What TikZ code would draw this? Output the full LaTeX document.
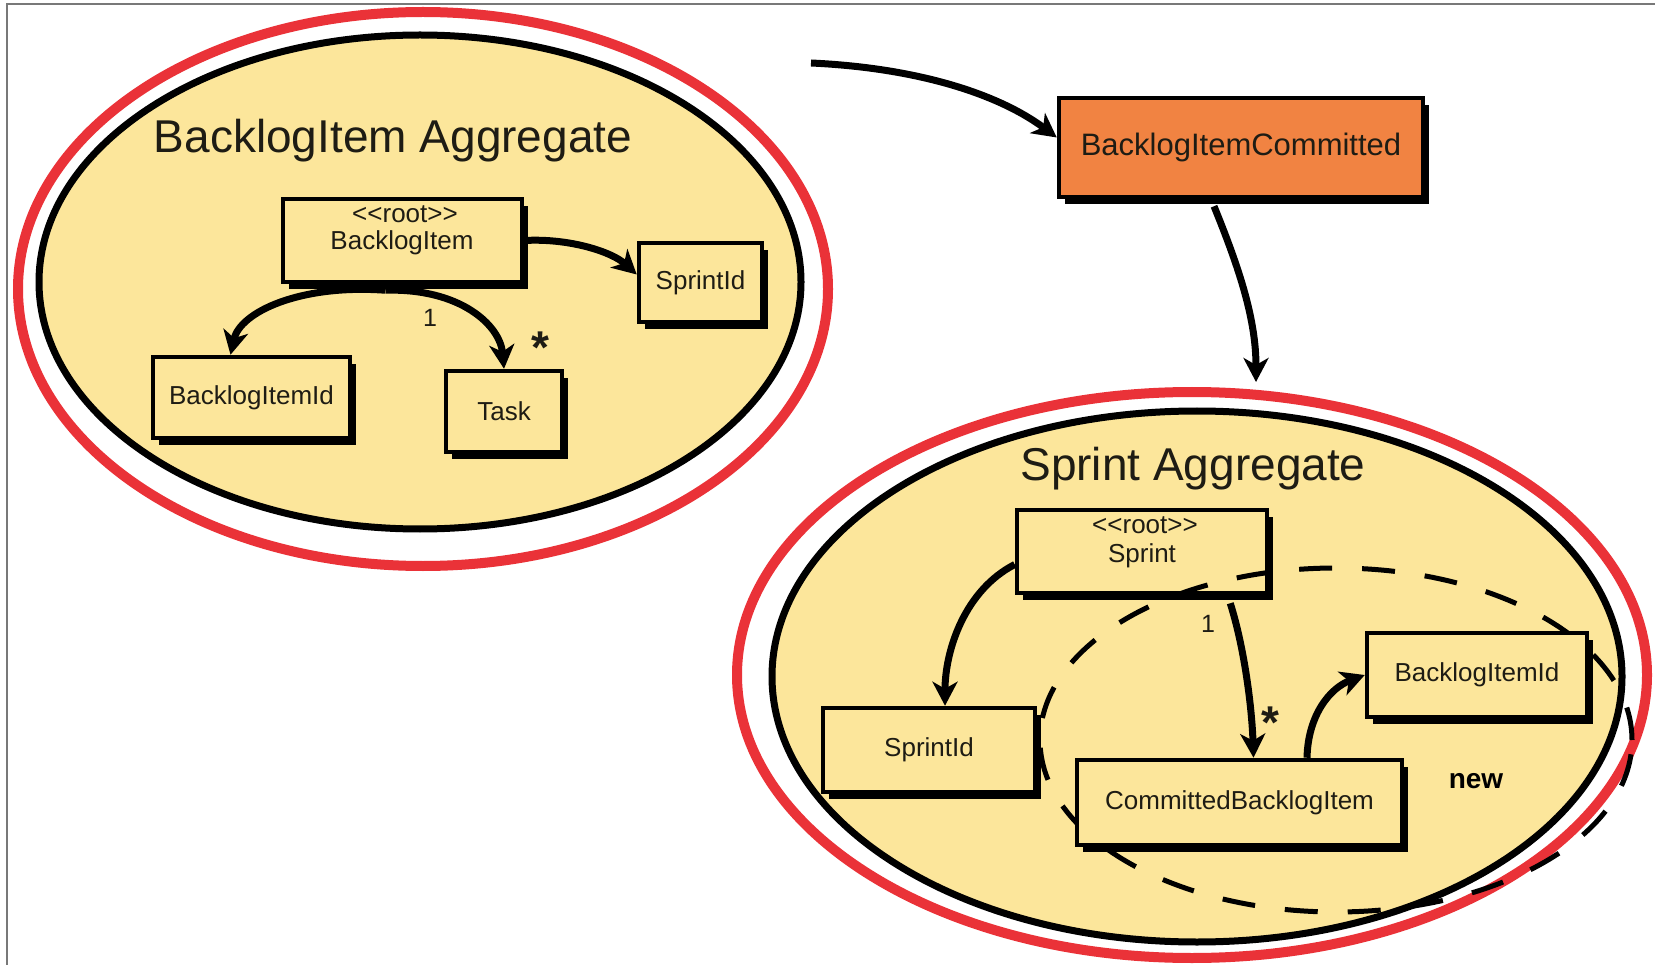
\documentclass[tikz,border=0pt]{standalone}
\usepackage{fontspec}
\setmainfont{Liberation Sans}
\usetikzlibrary{shapes.geometric, shadows, arrows.meta}

\definecolor{aggfill}{RGB}{252,230,155}
\definecolor{aggred}{RGB}{234,50,56}
\definecolor{evtfill}{RGB}{241,131,66}
\definecolor{framegray}{RGB}{120,120,120}
\definecolor{ink}{RGB}{30,28,20}

% stereotype marker, kept apart so the angle brackets are not merged into guillemets
\newcommand{\rootmark}{\textless\kern0pt\textless root\textgreater\kern0pt\textgreater}

\begin{document}
\begin{tikzpicture}[x=1pt, y=-1pt,
  outerring/.style={ellipse, draw=aggred, line width=10pt, inner sep=0pt, outer sep=0pt},
  innerring/.style={ellipse, draw=black, fill=aggfill, line width=7pt, inner sep=0pt, outer sep=0pt},
  newring/.style={ellipse, draw=black, line width=5pt, dash pattern=on 33pt off 30pt, inner sep=0pt},
  entity/.style={rectangle, draw=black, fill=aggfill, line width=4.5pt, inner sep=0pt,
     drop shadow={shadow xshift=6pt, shadow yshift=-7pt, opacity=1, fill=black}},
  boxtext/.style={font=\fontsize{26}{30}\selectfont, text=ink},
  roottext/.style={anchor=base, text=ink},
  conn/.style={line width=7pt, -{Stealth[length=24pt, width=25pt, inset=7pt]}},
  aggtitle/.style={font=\fontsize{46}{50}\selectfont, text=ink, anchor=base},
  mult/.style={font=\fontsize{25}{27}\selectfont, text=ink, anchor=base},
  star/.style={font=\bfseries\fontsize{46}{48}\selectfont, text=ink, anchor=base},
]
\useasboundingbox (0,0) rectangle (1655,965);

% page frame
\draw[framegray, line width=1.5pt] (7,965) -- (7,4) -- (1655,4);

% aggregate boundaries
\node[outerring, minimum width=810pt, minimum height=554pt] (bi_outer) at (423,289) {};
\node[innerring, minimum width=762pt, minimum height=494pt] (bi_inner) at (420,282) {};
\node[outerring, minimum width=910pt, minimum height=566pt] (sp_outer) at (1192,675) {};
\node[innerring, minimum width=850pt, minimum height=531pt] (sp_inner) at (1197,676.5) {};

% titles
\node[aggtitle] (bi_title) at (393,153) {BacklogItem Aggregate};
\node[aggtitle] (sp_title) at (1193,480) {Sprint Aggregate};

% ---- BacklogItem aggregate ----
\node[entity, minimum width=239pt, minimum height=83pt] (bi_root) at (402.5,240.5) {};
\node[roottext, font=\fontsize{26}{28}\selectfont] (bi_stereo) at (405,223) {\rootmark};
\node[roottext, font=\fontsize{26}{28}\selectfont] (bi_rootname) at (402,250) {BacklogItem};

\node[entity, boxtext, minimum width=123pt, minimum height=79pt] (bi_sprintid) at (700.5,282.5) {SprintId};
\node[entity, boxtext, minimum width=197pt, minimum height=81pt] (bi_id) at (251.5,397.5) {BacklogItemId};
\node[entity, boxtext, minimum width=116pt, minimum height=81pt] (bi_task) at (504,411.5) {Task};

\coordinate (bi_fork) at ([xshift=-17pt, yshift=-6pt]bi_root.south);
\draw[conn] (bi_fork) .. controls (300,284) and (240,312) .. ([xshift=-21pt]bi_id.north);
\draw[conn] (bi_fork) .. controls (460,288) and (500,325) .. (bi_task.north);
\draw[conn] (bi_root.east) .. controls (570,238) and (612,252) .. ([yshift=8pt]bi_sprintid.west);

\node[mult] (bi_one) at (430,327) {1};
\node[star] (bi_many) at (540,364) {*};

% ---- Sprint aggregate ----
\node[entity, minimum width=250pt, minimum height=83pt] (sp_root) at (1142,551.5) {};
\node[roottext, font=\fontsize{26}{28}\selectfont] (sp_stereo) at (1145,533) {\rootmark};
\node[roottext, font=\fontsize{26}{28}\selectfont] (sp_rootname) at (1142,562) {Sprint};

% boundary of the newly created part
\node[newring, minimum width=592pt, minimum height=344pt] (sp_new) at (1336,740) {};

\node[entity, boxtext, minimum width=212pt, minimum height=84pt] (sp_sprintid) at (929,750) {SprintId};
\node[entity, boxtext, minimum width=325pt, minimum height=85pt] (sp_cbi) at (1239.5,802.5) {CommittedBacklogItem};
\node[entity, boxtext, minimum width=220pt, minimum height=84pt] (sp_bid) at (1477,675) {BacklogItemId};

\draw[conn] ([yshift=-13pt]sp_root.west) .. controls (965,590) and (945,650) .. ([xshift=16pt]sp_sprintid.north);
\draw[conn] ([xshift=-39pt, yshift=-8pt]sp_root.south east) .. controls (1245,650) and (1252,710) .. ([xshift=14pt]sp_cbi.north);
\draw[conn] ([xshift=67.5pt]sp_cbi.north) .. controls (1308,715) and (1330,688) .. (sp_bid.west);

\node[mult] (sp_one) at (1208,632) {1};
\node[star] (sp_many) at (1270,738) {*};
\node[font=\bfseries\fontsize{28}{30}\selectfont, text=black, anchor=base] (sp_newlabel) at (1476,788) {new};

% ---- domain event ----
\node[entity, fill=evtfill, minimum width=364pt, minimum height=99pt,
      font=\fontsize{31}{34}\selectfont, text=ink] (event) at (1241,147.5) {BacklogItemCommitted};
\coordinate (evt_src) at (811,63);
\coordinate (sp_entry) at (1256,382);
\draw[conn] (evt_src) .. controls (920,68) and (1000,95) .. ([yshift=10pt]event.west);
\draw[conn] ([xshift=-27pt, yshift=-7pt]event.south) .. controls (1240,270) and (1256,320) .. (sp_entry);

\end{tikzpicture}
\end{document}
